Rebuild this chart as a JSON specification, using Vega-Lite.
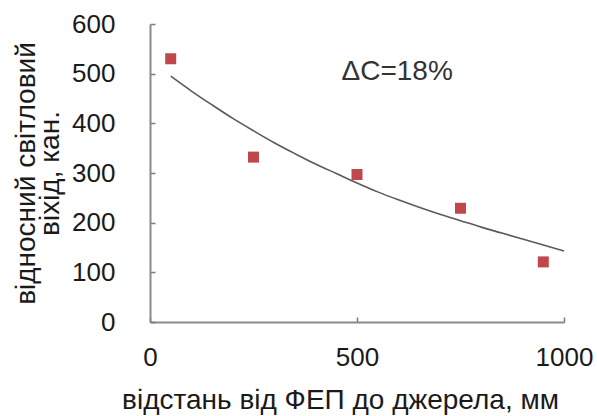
{
  "$schema": "https://vega.github.io/schema/vega-lite/v6.json",
  "autosize": "none",
  "width": 414,
  "height": 298,
  "padding": {"left": 150, "top": 24, "right": 33, "bottom": 94},
  "background": "white",
  "config": {
    "view": {"stroke": null},
    "font": "Liberation Sans",
    "axis": {
      "grid": false,
      "domainColor": "#8a8a8a",
      "domainWidth": 2,
      "tickColor": "#7a7a7a",
      "tickWidth": 1.5,
      "tickSize": -5,
      "labelFont": "Liberation Sans",
      "labelFontSize": 26,
      "labelColor": "#1a1a1a",
      "titleFont": "Liberation Sans",
      "titleFontSize": 28,
      "titleFontWeight": "normal",
      "titleColor": "#1a1a1a"
    }
  },
  "datasets": {
    "measured": [
      {"distance": 50, "output": 530},
      {"distance": 250, "output": 332},
      {"distance": 500, "output": 297},
      {"distance": 750, "output": 229},
      {"distance": 950, "output": 121}
    ],
    "trend": [
      {"distance": 50, "output": 495},
      {"distance": 100, "output": 465},
      {"distance": 150, "output": 437},
      {"distance": 200, "output": 410},
      {"distance": 250, "output": 385},
      {"distance": 300, "output": 361},
      {"distance": 350, "output": 339},
      {"distance": 400, "output": 318},
      {"distance": 450, "output": 299},
      {"distance": 500, "output": 280},
      {"distance": 550, "output": 262},
      {"distance": 600, "output": 246},
      {"distance": 650, "output": 231},
      {"distance": 700, "output": 217},
      {"distance": 750, "output": 204},
      {"distance": 800, "output": 191},
      {"distance": 850, "output": 179},
      {"distance": 900, "output": 167},
      {"distance": 950, "output": 155},
      {"distance": 1000, "output": 143}
    ]
  },
  "layer": [
    {
      "data": {"name": "trend"},
      "mark": {"type": "line", "color": "#5a5a5a", "strokeWidth": 1.6, "interpolate": "monotone"},
      "encoding": {
        "x": {
          "field": "distance",
          "type": "quantitative",
          "scale": {"domain": [0, 1000], "nice": false},
          "axis": {
            "values": [0, 500, 1000],
            "format": "d",
            "labelPadding": 27,
            "labelFlush": false,
            "title": "відстань від ФЕП до джерела, мм",
            "titleX": 190,
            "titleY": 78,
            "titleBaseline": "middle",
            "titleAnchor": "middle"
          }
        },
        "y": {
          "field": "output",
          "type": "quantitative",
          "scale": {"domain": [0, 600], "nice": false},
          "axis": {
            "values": [0, 100, 200, 300, 400, 500, 600],
            "format": "d",
            "labelPadding": 40,
            "labelFlush": false,
            "title": ["відносний світловий", "віхід, кан."],
            "titleAngle": -90,
            "titleX": -124,
            "titleY": 149,
            "titleBaseline": "middle",
            "titleAlign": "center",
            "titleLineHeight": 24
          }
        }
      }
    },
    {
      "data": {"name": "measured"},
      "mark": {"type": "square", "filled": true, "color": "#c0474b", "size": 121, "opacity": 1},
      "encoding": {
        "x": {"field": "distance", "type": "quantitative"},
        "y": {"field": "output", "type": "quantitative"}
      }
    },
    {
      "data": {"values": [{"note": "ΔC=18%"}]},
      "mark": {"type": "text", "font": "Liberation Sans", "fontSize": 28, "color": "#333333", "align": "center", "baseline": "middle"},
      "encoding": {
        "x": {"datum": 597},
        "y": {"datum": 503},
        "text": {"field": "note"}
      }
    }
  ]
}
